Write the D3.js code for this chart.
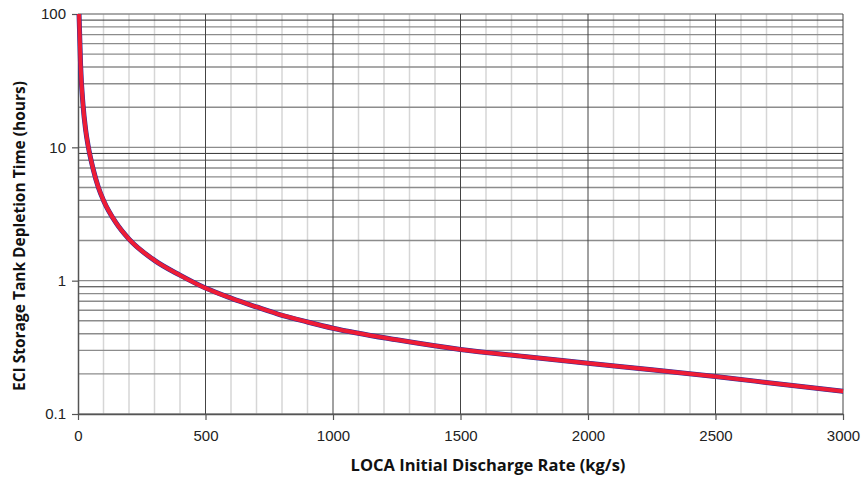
<!DOCTYPE html>
<html>
<head>
<meta charset="utf-8">
<script src="https://cdn.jsdelivr.net/npm/d3@7"></script>
<style>
  body { margin: 0; background: #fff; }
  svg { display: block; }
</style>
</head>
<body>
<div id="chart"></div>
<script>
// discharge rate (kg/s) and depletion time (hours)
const rates = [4, 10, 20, 30, 40, 60, 80, 100, 150, 200, 300, 400, 500, 600, 700, 800, 900, 1000, 1250, 1500, 1750, 2000, 2250, 2500, 2750, 3000];
const hours = [100, 42, 20.5, 13.5, 10.2, 6.8, 5.0, 4.0, 2.7, 2.05, 1.42, 1.1, 0.88, 0.74, 0.635, 0.55, 0.49, 0.44, 0.36, 0.305, 0.27, 0.24, 0.215, 0.191, 0.168, 0.148];

const xTicks = [0, 500, 1000, 1500, 2000, 2500, 3000];
const yTicks = [0.1, 1, 10, 100];
const yTickLabels = ['0.1', '1', '10', '100'];

const width = 862, height = 478;
const margin = { top: 14, right: 19, bottom: 64, left: 78 };
const innerW = width - margin.left - margin.right;
const innerH = height - margin.top - margin.bottom;

const svg = d3.select('#chart').append('svg')
    .attr('width', width)
    .attr('height', height);

const g = svg.append('g')
    .attr('transform', `translate(${margin.left},${margin.top})`);

const x = d3.scaleLinear().domain([0, 3000]).range([0, innerW]);
const y = d3.scaleLog().domain([0.1, 100]).range([innerH, 0]);

// minor vertical grid every 100
g.append('g').selectAll('line')
    .data(d3.range(100, 3000, 100).filter(v => v % 500 !== 0))
    .join('line')
    .attr('x1', d => x(d)).attr('x2', d => x(d))
    .attr('y1', 0).attr('y2', innerH)
    .attr('stroke', '#d6d6d6')
    .attr('stroke-width', 1.5);

// horizontal grid at every 1..9 of each decade
const yGrid = [];
[0.1, 1, 10].forEach(dec => { for (let k = 1; k <= 9; k++) yGrid.push(dec * k); });
yGrid.push(100);
g.append('g').selectAll('line')
    .data(yGrid)
    .join('line')
    .attr('x1', 0).attr('x2', innerW)
    .attr('y1', d => y(d)).attr('y2', d => y(d))
    .attr('stroke', (d, i) => (i % 9 === 8 ? '#333' : '#8c8c8c'))
    .attr('stroke-width', (d, i) => (i % 9 === 8 ? 1 : 1.4));

// major vertical grid
g.append('g').selectAll('line')
    .data(xTicks.slice(1))
    .join('line')
    .attr('x1', d => x(d)).attr('x2', d => x(d))
    .attr('y1', 0).attr('y2', innerH)
    .attr('stroke', '#444')
    .attr('stroke-width', 1);

// axes
const xAxis = g.append('g')
    .attr('transform', `translate(0,${innerH})`)
    .call(d3.axisBottom(x).tickValues(xTicks).tickFormat(d3.format('d')).tickSize(6).tickPadding(10).tickSizeOuter(0));
const yAxis = g.append('g')
    .call(d3.axisLeft(y).tickValues(yTicks).tickFormat((d, i) => yTickLabels[i]).tickSize(6).tickPadding(6).tickSizeOuter(0));

[xAxis, yAxis].forEach(a => {
    a.select('.domain').attr('stroke', '#555').attr('stroke-width', 1.5);
    a.selectAll('.tick line').attr('stroke', '#555').attr('stroke-width', 1.2);
    a.selectAll('.tick text')
        .attr('fill', '#222')
        .style('font-family', '"Liberation Sans", Arial, sans-serif')
        .style('font-size', '15px');
});

// curve: blue series under red series
const line = d3.line()
    .x((d, i) => x(rates[i]))
    .y(d => y(d))
    .curve(d3.curveMonotoneX);

g.append('path')
    .datum(hours)
    .attr('d', line)
    .attr('fill', 'none')
    .attr('stroke', '#2b2b9a')
    .attr('stroke-width', 5);

g.append('path')
    .datum(hours)
    .attr('d', line)
    .attr('fill', 'none')
    .attr('stroke', '#ee1c35')
    .attr('stroke-width', 4);

// axis titles
svg.append('text')
    .attr('x', 488)
    .attr('y', 471)
    .attr('text-anchor', 'middle')
    .style('font-family', '"Open Sans", sans-serif')
    .style('font-weight', 'bold')
    .style('font-size', '16.5px')
    .attr('fill', '#111')
    .text('LOCA Initial Discharge Rate (kg/s)');

svg.append('text')
    .attr('transform', 'translate(25,236) rotate(-90)')
    .attr('text-anchor', 'middle')
    .style('font-family', '"Open Sans", sans-serif')
    .style('font-weight', 'bold')
    .style('font-size', '15.5px')
    .attr('fill', '#111')
    .text('ECI Storage Tank Depletion Time (hours)');
</script>
</body>
</html>
